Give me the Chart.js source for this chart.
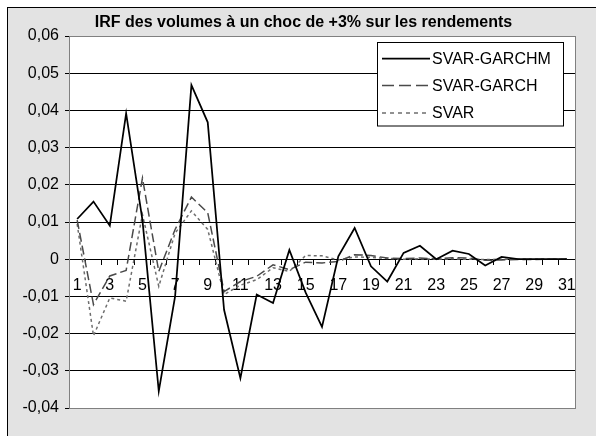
<!DOCTYPE html>
<html>
<head>
<meta charset="utf-8">
<script src="https://cdn.jsdelivr.net/npm/chart.js@4.4.1/dist/chart.umd.min.js"></script>
<style>
html,body{margin:0;padding:0;background:#fff;overflow:hidden;width:596px;height:436px;}
#frame{position:absolute;left:7px;top:7px;width:600px;height:440px;background:#e3e3e3;border-left:1px solid #000;border-top:1px solid #000;}
#wrap{position:absolute;left:0;top:0;width:596px;height:436px;}
</style>
</head>
<body>
<div id="frame"></div>
<div id="wrap"><canvas id="chart"></canvas></div>
<script>
// --------- data ---------
const TITLE = 'IRF des volumes à un choc de +3% sur les rendements';
const periods = ['1','2','3','4','5','6','7','8','9','10','11','12','13','14','15','16',
    '17','18','19','20','21','22','23','24','25','26','27','28','29','30','31'];

const garchm = [0.0108, 0.0155, 0.0090, 0.0392, 0.0105, -0.0355, -0.0100, 0.0468, 0.0368, -0.0136,
    -0.0320, -0.0095, -0.0118, 0.0025, -0.0090, -0.0182, 0.0008, 0.0084, -0.0019, -0.0060,
    0.0017, 0.0036, 0.0000, 0.0023, 0.0014, -0.0017, 0.0006, 0, 0, 0, 0];

const garch = [0.0105, -0.0122, -0.0045, -0.0030, 0.0218, -0.0033, 0.0080, 0.0167, 0.0125, -0.0087,
    -0.0060, -0.0046, -0.0015, -0.0028, -0.0008, -0.0010, -0.0006, 0.0012, 0.0010, 0.0003,
    0.0002, 0.0003, 0.0001, 0.0004, 0.0003, -0.0003, -0.0002, -0.0001, -0.0001, 0, 0];

const svar = [0.0095, -0.0206, -0.0104, -0.0113, 0.0120, -0.0073, 0.0070, 0.0130, 0.0080, -0.0095,
    -0.0070, -0.0055, -0.0023, -0.0033, 0.0010, 0.0009, -0.0002, 0.0006, 0.0005, 0.0002,
    0, 0.0001, 0, 0.0001, 0, -0.0001, 0, 0, 0, 0, 0];

const seriesNames = ['SVAR-GARCHM', 'SVAR-GARCH', 'SVAR'];
const yMin = -0.04, yMax = 0.06, yStep = 0.01;

const FONT = "'Liberation Sans', Arial, sans-serif";

function fmt(v){
    const r = Math.round(v*100)/100;
    if(r === 0) return '0';
    return r.toFixed(2).replace('.', ',');
}

// --------- plugins: white plot, border, title, legend ---------
const frameAndTitle = {
    id: 'frameAndTitle',
    beforeDraw(chart){
        const {ctx, chartArea: a} = chart;
        ctx.save();
        ctx.fillStyle = '#fff';
        ctx.fillRect(a.left, a.top, a.right-a.left, a.bottom-a.top);
        ctx.restore();
    },
    afterDraw(chart){
        const {ctx, chartArea: a} = chart;
        ctx.save();
        ctx.strokeStyle = '#808080';
        ctx.lineWidth = 1;
        ctx.strokeRect(Math.round(a.left)+0.5, Math.round(a.top)+0.5, Math.round(a.right-a.left), Math.round(a.bottom-a.top));

        ctx.fillStyle = '#000';
        ctx.font = 'bold 16px ' + FONT;
        ctx.textAlign = 'center';
        ctx.textBaseline = 'middle';
        ctx.fillText(TITLE, 303.5, 23);

        // legend
        const bx = 377.5, by = 42.5, bw = 186, bh = 83.5;
        ctx.fillStyle = '#fff';
        ctx.fillRect(bx, by, bw, bh);
        ctx.strokeStyle = '#000';
        ctx.strokeRect(bx, by, bw, bh);
        ctx.font = '16px ' + FONT;
        ctx.textAlign = 'left';
        const rows = [58.5, 85.5, 113];
        chart.data.datasets.forEach((ds, i) => {
            const y = rows[i];
            ctx.strokeStyle = ds.borderColor;
            ctx.lineWidth = ds.borderWidth;
            ctx.setLineDash(ds.legendDash);
            ctx.beginPath();
            ctx.moveTo(382, y);
            ctx.lineTo(430, y);
            ctx.stroke();
            ctx.setLineDash([]);
            ctx.fillStyle = '#000';
            ctx.fillText(ds.label, 432, y + 1);
        });
        ctx.restore();
    }
};

new Chart(document.getElementById('chart'), {
    type: 'line',
    data: {
        labels: periods,
        datasets: [
            {label: seriesNames[0], data: garchm, borderColor: '#000', borderWidth: 1.75,
                borderDash: [], legendDash: [], pointRadius: 0, tension: 0},
            {label: seriesNames[1], data: garch, borderColor: '#4a4a4a', borderWidth: 1.5,
                borderDash: [9, 4], legendDash: [12, 5], pointRadius: 0, tension: 0},
            {label: seriesNames[2], data: svar, borderColor: '#6e6e6e', borderWidth: 1.5,
                borderDash: [3, 3], legendDash: [4, 4], pointRadius: 0, tension: 0}
        ]
    },
    options: {
        responsive: true,
        maintainAspectRatio: false,
        animation: false,
        devicePixelRatio: 1,
        layout: {padding: {left: 0, right: 21, top: 36, bottom: 28}},
        plugins: {legend: {display: false}, title: {display: false}, tooltip: {enabled: false}},
        scales: {
            x: {
                type: 'category',
                position: {y: 0},
                offset: true,
                grid: {offset: true, drawOnChartArea: false, tickLength: 5, color: '#000'},
                border: {display: true, color: '#000', width: 1},
                ticks: {
                    autoSkip: false, maxRotation: 0, minRotation: 0, padding: 12,
                    color: '#000', font: {family: FONT, size: 16},
                    callback: (v, i) => i % 2 === 0 ? periods[i] : ''
                }
            },
            y: {
                min: yMin, max: yMax,
                grid: {color: '#000', lineWidth: 1, tickLength: 4},
                border: {color: '#808080'},
                ticks: {stepSize: yStep, padding: 6, color: '#000',
                    font: {family: FONT, size: 16}, callback: v => fmt(v)},
                afterFit: s => { s.width = 69; }
            }
        }
    },
    plugins: [frameAndTitle]
});
</script>
</body>
</html>
